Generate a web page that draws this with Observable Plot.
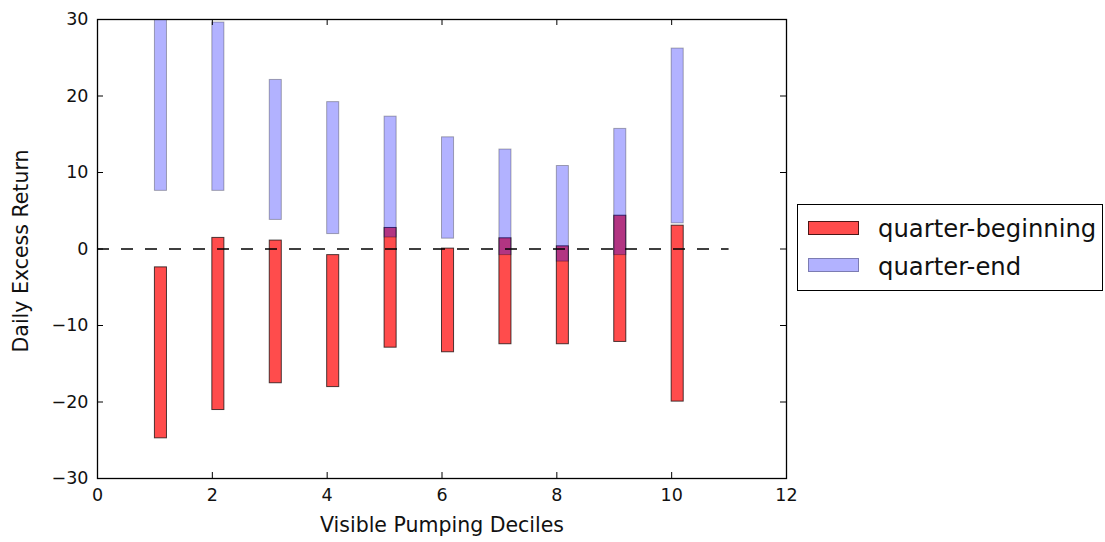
<!DOCTYPE html>
<html>
<head>
<meta charset="utf-8">
<script src="https://cdn.jsdelivr.net/npm/d3@7"></script>
<script src="https://cdn.jsdelivr.net/npm/@observablehq/plot@0.6"></script>
<style>
  html, body { margin: 0; padding: 0; background: white; }
  #wrap { position: relative; width: 1105px; height: 542px; font-family: "DejaVu Sans", sans-serif; }
  #legend { position: absolute; left: 797px; top: 204px; width: 306px; height: 87px; border: 1px solid black; background: white; box-sizing: border-box; }
  .sw { position: absolute; left: 10px; width: 51px; height: 14px; box-sizing: border-box; }
  .lab { position: absolute; left: 80px; font-size: 24.3px; line-height: 24px; color: #111; white-space: nowrap; }
</style>
</head>
<body>
<div id="wrap"></div>
<script>
// ---- data ----
const deciles = [1, 2, 3, 4, 5, 6, 7, 8, 9, 10];
const beginLow  = [-24.75, -21.05, -17.55, -18.05, -12.9, -13.5, -12.45, -12.45, -12.15, -19.95];
const beginHigh = [-2.4, 1.45, 1.1, -0.8, 2.75, 0.05, 1.4, 0.35, 4.35, 3.05];
const endLow    = [7.6, 7.6, 3.8, 1.95, 1.5, 1.35, -0.8, -1.65, -0.8, 3.35];
const endHigh   = [31.5, 29.6, 22.1, 19.2, 17.3, 14.6, 13.0, 10.85, 15.7, 26.2];
const seriesNames = ["quarter-beginning", "quarter-end"];
const xTicks = [0, 2, 4, 6, 8, 10, 12];
const yTicks = [-30, -20, -10, 0, 10, 20, 30];
const xLabel = "Visible Pumping Deciles";
const yLabel = "Daily Excess Return";

const barWidth = 0.21;
const W = 1105, H = 542;
const mT = 19, mB = 64, mL = 97, mR = 319;
const fh = H - mT - mB, fw = W - mL - mR;
const tl = 6;

const begin = deciles.map((d, i) => ({decile: d, low: beginLow[i], high: beginHigh[i]}));
const end = deciles.map((d, i) => ({decile: d, low: endLow[i], high: endHigh[i]}));

const chart = Plot.plot({
  width: W, height: H,
  marginTop: mT, marginBottom: mB, marginLeft: mL, marginRight: mR,
  style: {fontFamily: "DejaVu Sans", fontSize: "17.5px", color: "#111", background: "white"},
  x: {domain: [0, 12], ticks: xTicks, tickSize: 0, tickPadding: 10, label: null},
  y: {domain: [-30, 30], ticks: yTicks, tickSize: 0, tickPadding: 9, label: null},
  marks: [
    Plot.rect(begin, {x1: "decile", x2: d => d.decile + barWidth, y1: "low", y2: "high",
      fill: "red", fillOpacity: 0.7, stroke: "black", strokeOpacity: 0.7, strokeWidth: 1, clip: true}),
    Plot.rect(end, {x1: "decile", x2: d => d.decile + barWidth, y1: "low", y2: "high",
      fill: "blue", fillOpacity: 0.3, stroke: "black", strokeOpacity: 0.3, strokeWidth: 1, clip: true}),
    Plot.ruleY([0], {x1: 0, x2: 11, stroke: "black", strokeWidth: 1.5, strokeDasharray: "12,12"}),
    Plot.tickX(xTicks, {x: d => d, insetTop: fh - tl, stroke: "black", strokeWidth: 1}),
    Plot.tickX(xTicks, {x: d => d, insetBottom: fh - tl, stroke: "black", strokeWidth: 1}),
    Plot.tickY(yTicks, {y: d => d, insetRight: fw - tl, stroke: "black", strokeWidth: 1}),
    Plot.tickY(yTicks, {y: d => d, insetLeft: fw - tl, stroke: "black", strokeWidth: 1}),
    Plot.frame({stroke: "black", strokeWidth: 1.3}),
    Plot.text([xLabel], {frameAnchor: "bottom", dy: 47, lineAnchor: "middle", textAnchor: "middle", fontSize: 20.5, fill: "#111"}),
    Plot.text([yLabel], {frameAnchor: "left", dx: -76, dy: 2, rotate: -90, lineAnchor: "middle", textAnchor: "middle", fontSize: 20.5, fill: "#111"})
  ]
});

const wrap = document.getElementById("wrap");
wrap.appendChild(chart);

const legend = document.createElement("div");
legend.id = "legend";
const swatchStyles = [
  {bg: "rgba(255,0,0,0.7)", border: "1px solid rgba(0,0,0,0.7)", top: 16},
  {bg: "rgba(0,0,255,0.3)", border: "1px solid rgba(0,0,0,0.3)", top: 53}
];
const labelTops = [11.5, 50];
seriesNames.forEach((name, i) => {
  const sw = document.createElement("div");
  sw.className = "sw";
  sw.style.background = swatchStyles[i].bg;
  sw.style.border = swatchStyles[i].border;
  sw.style.top = swatchStyles[i].top + "px";
  legend.appendChild(sw);
  const lab = document.createElement("div");
  lab.className = "lab";
  lab.style.top = labelTops[i] + "px";
  lab.textContent = name;
  legend.appendChild(lab);
});
wrap.appendChild(legend);
</script>
</body>
</html>
